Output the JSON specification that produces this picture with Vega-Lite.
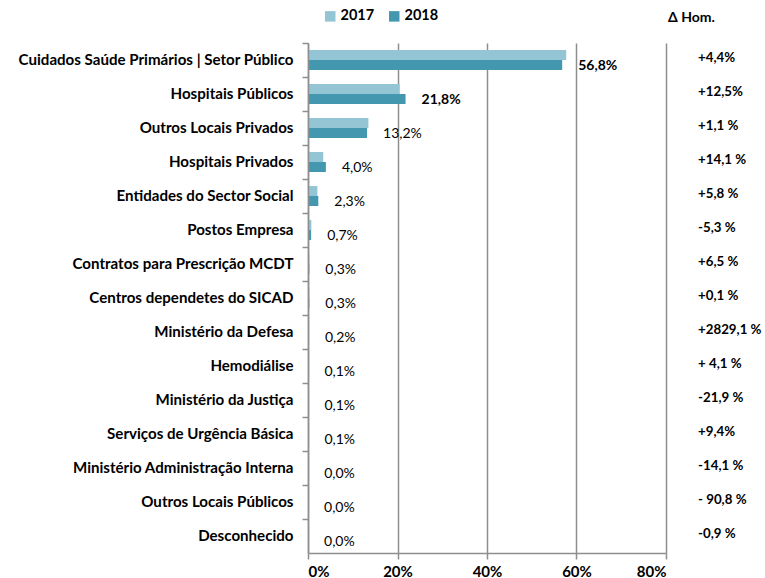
{
  "$schema": "https://vega.github.io/schema/vega-lite/v6.json",
  "padding": {"left": 17, "top": 9, "right": 0, "bottom": 0},
  "background": "white",
  "config": {
    "font": "Lato",
    "view": {"stroke": null},
    "locale": {"number": {"decimal": ",", "thousands": ".", "grouping": [3], "currency": ["", " €"]}},
    "concat": {"spacing": 1}
  },
  "datasets": {
    "rows": [
      {"cat": "Cuidados Saúde Primários | Setor Público", "2017": 0.577, "2018": 0.568, "delta": "+4,4%"},
      {"cat": "Hospitais Públicos", "2017": 0.205, "2018": 0.218, "delta": "+12,5%"},
      {"cat": "Outros Locais Privados", "2017": 0.135, "2018": 0.132, "delta": "+1,1 %"},
      {"cat": "Hospitais Privados", "2017": 0.034, "2018": 0.040, "delta": "+14,1 %"},
      {"cat": "Entidades do Sector Social", "2017": 0.021, "2018": 0.023, "delta": "+5,8 %"},
      {"cat": "Postos Empresa", "2017": 0.0075, "2018": 0.007, "delta": "-5,3 %"},
      {"cat": "Contratos para Prescrição MCDT", "2017": 0.003, "2018": 0.003, "delta": "+6,5 %"},
      {"cat": "Centros dependetes do SICAD", "2017": 0.003, "2018": 0.003, "delta": "+0,1 %"},
      {"cat": "Ministério da Defesa", "2017": 0.0001, "2018": 0.002, "delta": "+2829,1 %"},
      {"cat": "Hemodiálise", "2017": 0.001, "2018": 0.001, "delta": "+ 4,1 %"},
      {"cat": "Ministério da Justiça", "2017": 0.0013, "2018": 0.001, "delta": "-21,9 %"},
      {"cat": "Serviços de Urgência Básica", "2017": 0.0009, "2018": 0.001, "delta": "+9,4%"},
      {"cat": "Ministério Administração Interna", "2017": 0.0003, "2018": 0.0003, "delta": "-14,1 %"},
      {"cat": "Outros Locais Públicos", "2017": 0.0002, "2018": 0.00002, "delta": "- 90,8 %"},
      {"cat": "Desconhecido", "2017": 0.0001, "2018": 0.0001, "delta": "-0,9 %"}
    ]
  },
  "hconcat": [
    {
      "width": 358,
      "height": 510,
      "data": {"name": "rows"},
      "layer": [
        {
          "transform": [{"fold": ["2017", "2018"], "as": ["year", "share"]}],
          "mark": {"type": "bar"},
          "encoding": {
            "y": {
              "field": "cat", "type": "nominal", "sort": null,
              "scale": {"paddingInner": 0, "paddingOuter": 0},
              "axis": {
                "title": null, "bandPosition": 0, "domain": true, "ticks": true, "zindex": 2,
                "labelFontWeight": "bold", "labelFontSize": 15.1, "labelColor": "#000",
                "labelPadding": 9, "tickSize": 6, "tickColor": "#8E8E8E", "tickWidth": 1.5,
                "domainColor": "#8E8E8E", "domainWidth": 1.5, "grid": false, "labelLimit": 400
              }
            },
            "x": {
              "field": "share", "type": "quantitative",
              "scale": {"domain": [0, 0.8]},
              "axis": {
                "title": null, "format": ".0%", "values": [0, 0.2, 0.4, 0.6, 0.8],
                "labelFontWeight": "bold", "labelFontSize": 15, "labelColor": "#000",
                "labelPadding": 5, "tickSize": 6, "tickColor": "#8E8E8E", "tickWidth": 1.5,
                "domainColor": "#8E8E8E", "domainWidth": 1.5,
                "grid": true, "gridColor": "#8E8E8E", "gridWidth": 1.5
              }
            },
            "yOffset": {"field": "year", "type": "nominal", "scale": {"paddingOuter": 0.7, "paddingInner": 0}},
            "color": {
              "field": "year", "type": "nominal",
              "scale": {"domain": ["2017", "2018"], "range": ["#93C5D5", "#4398AF"]},
              "legend": {
                "title": null, "orient": "none", "direction": "horizontal",
                "legendX": 15, "legendY": -34,
                "symbolType": "square", "symbolSize": 110, "symbolStrokeWidth": 0,
                "labelFontWeight": "bold", "labelFontSize": 14.5, "labelColor": "#000",
                "columnPadding": 12, "labelOffset": 3
              }
            }
          }
        },
        {
          "transform": [{"filter": "datum['2018'] > 0.2"}],
          "mark": {"type": "text", "align": "left", "baseline": "middle", "dx": 16, "dy": 6, "fontSize": 14, "fontWeight": "bold", "color": "#000"},
          "encoding": {
            "y": {"field": "cat", "type": "nominal", "sort": null},
            "x": {"field": "2018", "type": "quantitative"},
            "text": {"field": "2018", "type": "quantitative", "format": ".1%"}
          }
        },
        {
          "transform": [{"filter": "datum['2018'] <= 0.2"}],
          "mark": {"type": "text", "align": "left", "baseline": "middle", "dx": 16, "dy": 6, "fontSize": 14, "color": "#000"},
          "encoding": {
            "y": {"field": "cat", "type": "nominal", "sort": null},
            "x": {"field": "2018", "type": "quantitative"},
            "text": {"field": "2018", "type": "quantitative", "format": ".1%"}
          }
        }
      ]
    },
    {
      "width": 60,
      "height": 510,
      "data": {"name": "rows"},
      "title": {"text": "Δ Hom.", "anchor": "start", "fontSize": 14, "fontWeight": "bold", "color": "#000", "offset": 18},
      "mark": {"type": "text", "align": "left", "baseline": "middle", "fontSize": 13.3, "fontWeight": "bold", "color": "#000", "dy": -2},
      "encoding": {
        "y": {"field": "cat", "type": "nominal", "sort": null, "scale": {"paddingInner": 0, "paddingOuter": 0}, "axis": null},
        "text": {"field": "delta", "type": "nominal"}
      }
    }
  ]
}
